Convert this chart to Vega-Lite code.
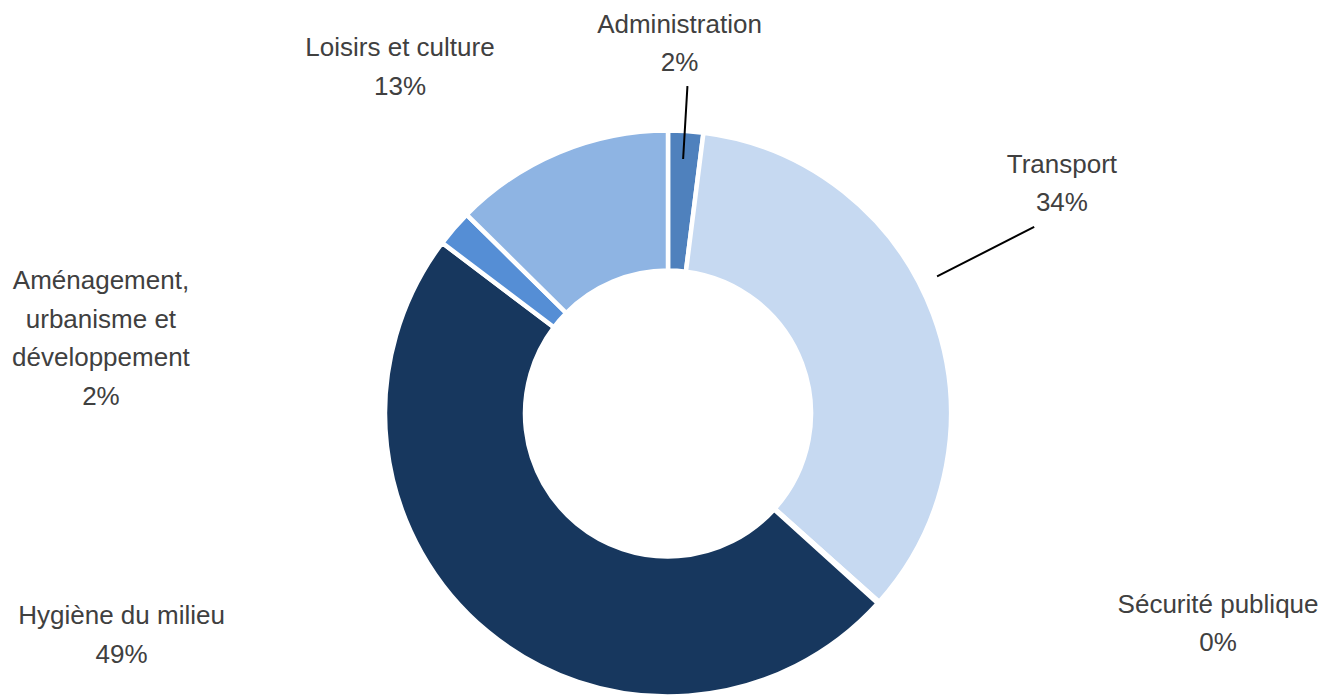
{
  "$schema": "https://vega.github.io/schema/vega-lite/v6.json",
  "autosize": "none",
  "width": 1336,
  "height": 567,
  "padding": {"left": 0, "right": 6, "top": 130, "bottom": 0},
  "background": "white",
  "view": {"stroke": null},
  "config": {
    "text": {"font": "Liberation Sans, Arial", "fontSize": 26, "fill": "#404040", "lineHeight": 38.5, "lineBreak": "\n", "align": "center", "baseline": "middle"}
  },
  "data": {
    "values": [
      {"poste": "Administration", "part": 2.0, "ordre": 1, "etiquette": "Administration\n2%"},
      {"poste": "Transport", "part": 34.6, "ordre": 2, "etiquette": "Transport\n34%"},
      {"poste": "Sécurité publique", "part": 0.1, "ordre": 3, "etiquette": "Sécurité publique\n0%"},
      {"poste": "Hygiène du milieu", "part": 48.6, "ordre": 4, "etiquette": "Hygiène du milieu\n49%"},
      {"poste": "Aménagement, urbanisme et développement", "part": 2.1, "ordre": 5, "etiquette": "Aménagement,\nurbanisme et\ndéveloppement\n2%"},
      {"poste": "Loisirs et culture", "part": 12.6, "ordre": 6, "etiquette": "Loisirs et culture\n13%"}
    ]
  },
  "layer": [
    {
      "mark": {"type": "arc", "innerRadius": 143, "outerRadius": 283, "stroke": "white", "strokeWidth": 4.5},
      "encoding": {
        "theta": {"field": "part", "type": "quantitative", "stack": true},
        "order": {"field": "ordre", "type": "quantitative"},
        "color": {
          "field": "poste",
          "type": "nominal",
          "legend": null,
          "scale": {
            "domain": ["Administration", "Transport", "Sécurité publique", "Hygiène du milieu", "Aménagement, urbanisme et développement", "Loisirs et culture"],
            "range": ["#4f81bd", "#c6d9f1", "#a6a6a6", "#17375e", "#558ed5", "#8eb4e3"]
          }
        }
      }
    },
    {
      "transform": [{"filter": "datum.poste === 'Administration'"}],
      "mark": {"type": "arc", "innerRadius": 255, "outerRadius": 328, "stroke": "black", "strokeWidth": 2, "fillOpacity": 0},
      "encoding": {"theta": {"datum": 0.944, "type": "quantitative"}, "theta2": {"datum": 0.944}}
    },
    {
      "transform": [{"filter": "datum.poste === 'Transport'"}],
      "mark": {"type": "arc", "innerRadius": 302, "outerRadius": 411, "stroke": "black", "strokeWidth": 2, "fillOpacity": 0},
      "encoding": {"theta": {"datum": 17.5, "type": "quantitative"}, "theta2": {"datum": 17.5}}
    },
    {
      "transform": [{"filter": "datum.poste === 'Administration'"}],
      "mark": {"type": "text", "radius": 388.7},
      "encoding": {"theta": {"datum": 0.471, "type": "quantitative"}, "text": {"field": "etiquette"}}
    },
    {
      "transform": [{"filter": "datum.poste === 'Transport'"}],
      "mark": {"type": "text", "radius": 465.8},
      "encoding": {"theta": {"datum": 16.04, "type": "quantitative"}, "text": {"field": "etiquette"}}
    },
    {
      "transform": [{"filter": "datum.poste === 'Sécurité publique'"}],
      "mark": {"type": "text", "radius": 582.4},
      "encoding": {"theta": {"datum": 30.33, "type": "quantitative"}, "text": {"field": "etiquette"}}
    },
    {
      "transform": [{"filter": "datum.poste === 'Hygiène du milieu'"}],
      "mark": {"type": "text", "radius": 582.8},
      "encoding": {"theta": {"datum": 69.35, "type": "quantitative"}, "text": {"field": "etiquette"}}
    },
    {
      "transform": [{"filter": "datum.poste === 'Aménagement, urbanisme et développement'"}],
      "mark": {"type": "text", "radius": 582.3},
      "encoding": {"theta": {"datum": 78.65, "type": "quantitative"}, "text": {"field": "etiquette"}}
    },
    {
      "transform": [{"filter": "datum.poste === 'Loisirs et culture'"}],
      "mark": {"type": "text", "radius": 453.2},
      "encoding": {"theta": {"datum": 89.93, "type": "quantitative"}, "text": {"field": "etiquette"}}
    }
  ]
}
